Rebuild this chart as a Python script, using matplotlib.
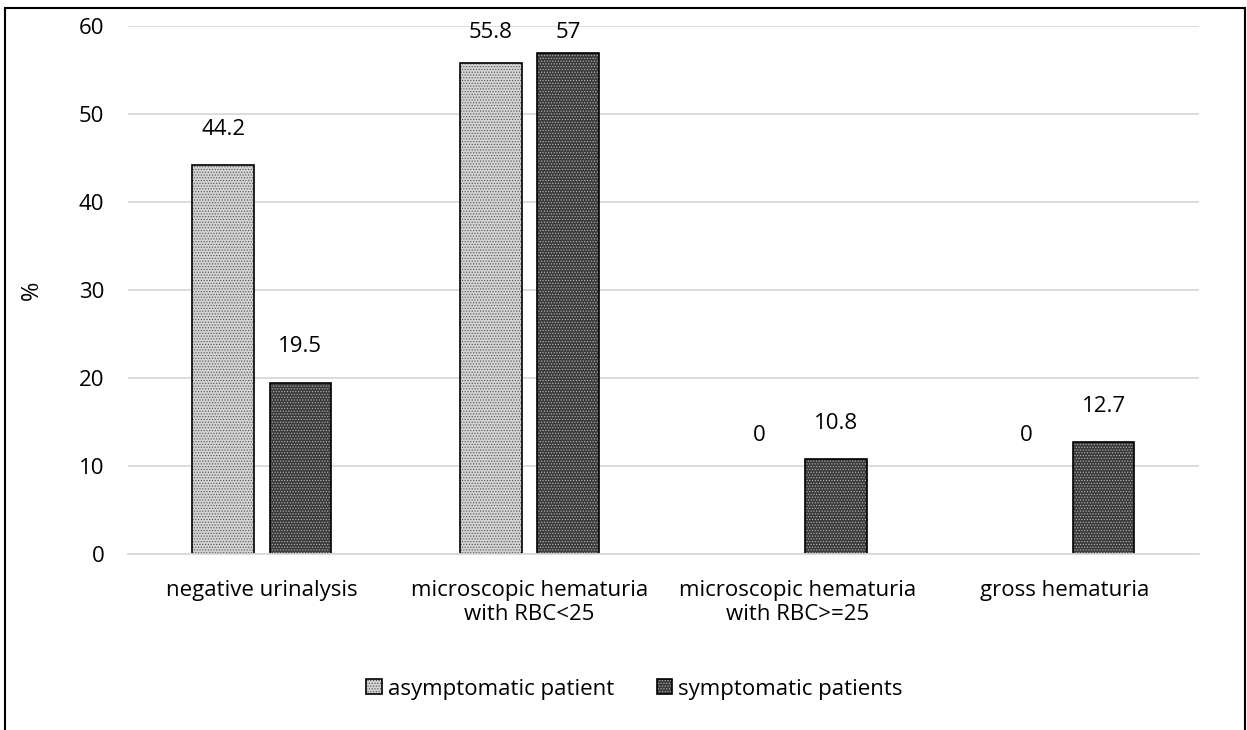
import numpy as np
import matplotlib.pyplot as plt
from matplotlib.patches import Rectangle

plt.rcParams['font.family'] = ['Open Sans', 'DejaVu Sans']
plt.rcParams['hatch.linewidth'] = 0.6

categories = ['negative urinalysis', 'microscopic hematuria\nwith RBC<25',
              'microscopic hematuria\nwith RBC>=25', 'gross hematuria']
asymptomatic = [44.2, 55.8, 0, 0]
symptomatic = [19.5, 57, 10.8, 12.7]
series_names = ['asymptomatic patient', 'symptomatic patients']

FS = 16

fig = plt.figure(figsize=(12.47, 7.30), dpi=100)
ax = fig.add_axes([0.1026, 0.241, 0.8589, 0.723])

x = np.arange(len(categories))
w = 0.23
off = 0.144

b1 = ax.bar(x - off, asymptomatic, w, color='#d4d4d4', edgecolor='black',
            linewidth=1.2, hatch='......', label=series_names[0])
b2 = ax.bar(x + off, symptomatic, w, color='#3a3a3a', edgecolor='black',
            linewidth=1.2, hatch='......', label=series_names[1])
# white dots on the dark bars, dark dots on the light ones
for p in b2:
    p._hatch_color = (1, 1, 1, 0.55)
for p in b1:
    p._hatch_color = (0.1, 0.1, 0.1, 0.6)
for p, v in zip(list(b1) + list(b2), asymptomatic + symptomatic):
    if v == 0:
        p.set_linewidth(0)

for bars, vals in [(b1, asymptomatic), (b2, symptomatic)]:
    for p, v in zip(bars, vals):
        # Excel lifts zero labels and keeps tall ones inside the plot area
        y = min(v + 4.1, 59.3) if v > 0 else 13.5
        ax.text(p.get_x() + p.get_width() / 2, y, f'{v:g}',
                ha='center', va='center', fontsize=FS, clip_on=False)

ax.set_ylim(0, 60)
ax.set_xlim(-0.5, 3.5)
ax.set_yticks(range(0, 61, 10))
ax.set_xticks(x)
ax.set_xticklabels(categories, fontsize=FS, linespacing=1.15)
ax.tick_params(axis='y', labelsize=FS, length=0, pad=17)
ax.tick_params(axis='x', length=0, pad=19)
ax.grid(axis='y', color='#d9d9d9', linewidth=1.3)
ax.set_axisbelow(True)
for s in ['top', 'right', 'left']:
    ax.spines[s].set_visible(False)
ax.spines['bottom'].set_color('#d9d9d9')
ax.spines['bottom'].set_linewidth(1.3)
ax.set_ylabel('%', fontsize=FS + 1, labelpad=25)

fig.legend(handles=[b1, b2], loc='center', bbox_to_anchor=(0.509, 0.056),
           ncol=2, frameon=False, fontsize=FS, handlelength=0.68,
           handleheight=0.68, handletextpad=0.3, columnspacing=1.9)

fig.patches.append(Rectangle((0.004, -0.05), 0.994, 1.039, transform=fig.transFigure,
                             fill=False, edgecolor='black', linewidth=1.5))

fig.savefig('out.png', dpi=100)
